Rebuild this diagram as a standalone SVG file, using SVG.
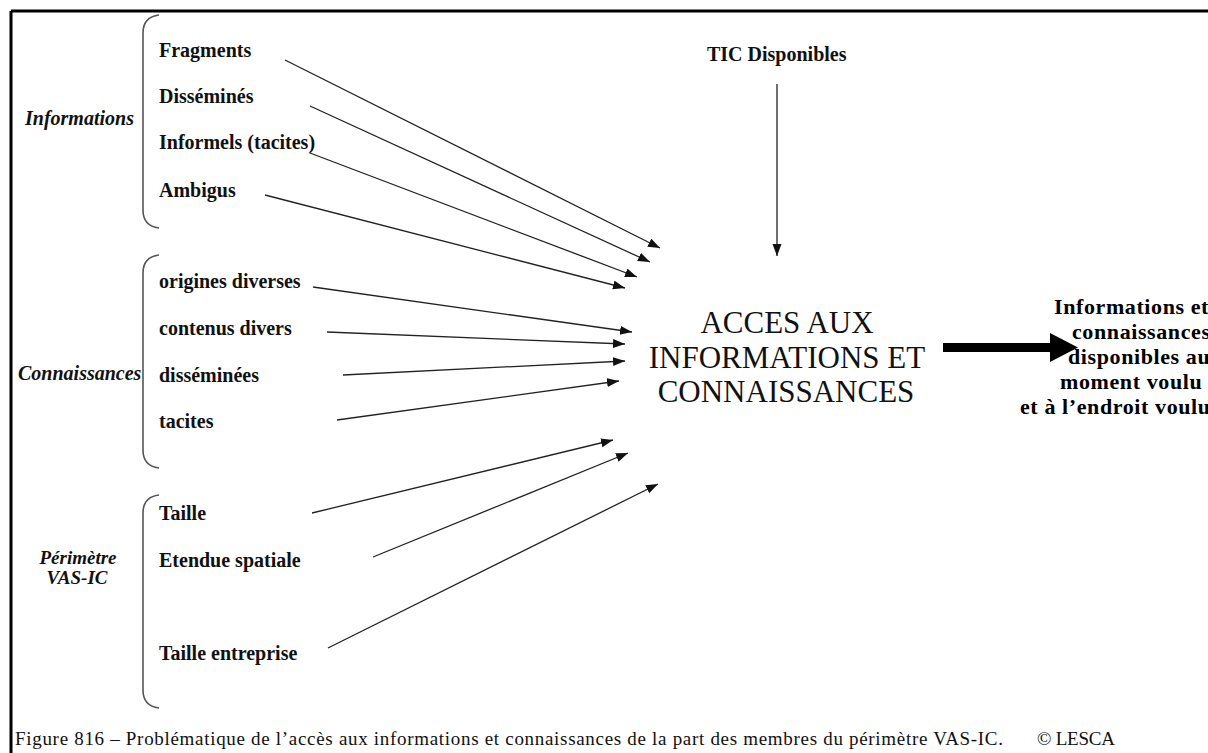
<svg xmlns="http://www.w3.org/2000/svg" width="1208" height="753" viewBox="0 0 1208 753">
<style>
.item{font-family:"Liberation Serif","Times New Roman",serif;font-weight:bold;font-size:20px;fill:#111}
.cat{font-family:"Liberation Serif","Times New Roman",serif;font-weight:bold;font-style:italic;font-size:20px;fill:#111}
.cat2{font-family:"Liberation Serif","Times New Roman",serif;font-weight:bold;font-style:italic;font-size:19px;fill:#111;text-anchor:middle}
.title{font-family:"Liberation Serif","Times New Roman",serif;font-size:31px;fill:#111;text-anchor:middle}
.out{font-family:"Liberation Serif","Times New Roman",serif;font-weight:bold;font-size:22px;letter-spacing:0.6px;fill:#000}
.cap{font-family:"Liberation Serif","Times New Roman",serif;font-size:19px;fill:#111}
.brace{fill:none;stroke:#555;stroke-width:1.6}
.conn line{stroke:#222;stroke-width:1.3;marker-end:url(#ah)}
</style>
<defs>
<marker id="ah" markerUnits="userSpaceOnUse" markerWidth="13" markerHeight="10" refX="12" refY="4.5" orient="auto">
<path d="M0,0 L12,4.5 L0,9 z" fill="#111"/>
</marker>
</defs>
<rect width="1208" height="753" fill="#fff"/>
<g id="frame" stroke="#000" stroke-width="3" fill="none">
<line x1="11" y1="11" x2="1208" y2="11"/>
<line x1="11" y1="11" x2="11" y2="753"/>
</g>

<g id="informations">
<text class="cat" x="25" y="125">Informations</text>
<path class="brace" d="M159,15 Q143,17 143,33 L143,210 Q143,226 159,228"/>
</g>
<g id="fragments"><text class="item" x="159" y="57">Fragments</text></g>
<g id="dissemines"><text class="item" x="159" y="103">Disséminés</text></g>
<g id="informels"><text class="item" x="159" y="149">Informels (tacites)</text></g>
<g id="ambigus"><text class="item" x="159" y="197">Ambigus</text></g>

<g id="connaissances">
<text class="cat" x="18" y="380">Connaissances</text>
<path class="brace" d="M159,255 Q143,257 143,273 L143,450 Q143,466 159,468"/>
</g>
<g id="origines"><text class="item" x="159" y="288">origines diverses</text></g>
<g id="contenus"><text class="item" x="159" y="335">contenus divers</text></g>
<g id="disseminees"><text class="item" x="159" y="382">disséminées</text></g>
<g id="tacites"><text class="item" x="159" y="428">tacites</text></g>

<g id="perimetre">
<text class="cat2" x="78" y="564">Périmètre</text>
<text class="cat2" x="77" y="584">VAS-IC</text>
<path class="brace" d="M159,495 Q143,497 143,513 L143,690 Q143,706 159,708"/>
</g>
<g id="taille"><text class="item" x="159" y="520">Taille</text></g>
<g id="etendue"><text class="item" x="159" y="567">Etendue spatiale</text></g>
<g id="taille-entreprise"><text class="item" x="159" y="660">Taille entreprise</text></g>

<g id="tic"><text class="item" x="707" y="61">TIC Disponibles</text></g>

<g id="acces">
<text class="title" x="787" y="333">ACCES AUX</text>
<text class="title" x="787" y="368">INFORMATIONS ET</text>
<text class="title" x="786" y="402">CONNAISSANCES</text>
</g>

<g id="resultat">
<text class="out" x="1054" y="314">Informations et</text>
<text class="out" x="1072" y="339">connaissances</text>
<text class="out" x="1068" y="364">disponibles au</text>
<text class="out" x="1060" y="389">moment voulu</text>
<text class="out" x="1020" y="414">et à l’endroit voulu</text>
</g>

<g id="connectors" class="conn">
<line x1="285" y1="60" x2="660" y2="248"/>
<line x1="310" y1="106" x2="650" y2="262"/>
<line x1="310" y1="153" x2="637" y2="277"/>
<line x1="265" y1="195" x2="625" y2="288"/>
<line x1="313" y1="287" x2="632" y2="332"/>
<line x1="327" y1="332" x2="625" y2="344"/>
<line x1="343" y1="375" x2="625" y2="361"/>
<line x1="337" y1="420" x2="619" y2="381"/>
<line x1="312" y1="513" x2="613" y2="440"/>
<line x1="373" y1="557" x2="628" y2="453"/>
<line x1="328" y1="648" x2="658" y2="484"/>
<line x1="777" y1="84" x2="777" y2="256"/>
<path d="M943,343 L1050,343 L1050,333 L1078,347.5 L1050,362 L1050,352 L943,352 Z" fill="#000"/>
</g>

<g id="caption">
<text class="cap" x="15" y="745" textLength="988" lengthAdjust="spacing">Figure 816 – Problématique de l’accès aux informations et connaissances de la part des membres du périmètre VAS-IC.</text>
<text class="cap" x="1037" y="745" textLength="78" lengthAdjust="spacing">© LESCA</text>
</g>
</svg>
